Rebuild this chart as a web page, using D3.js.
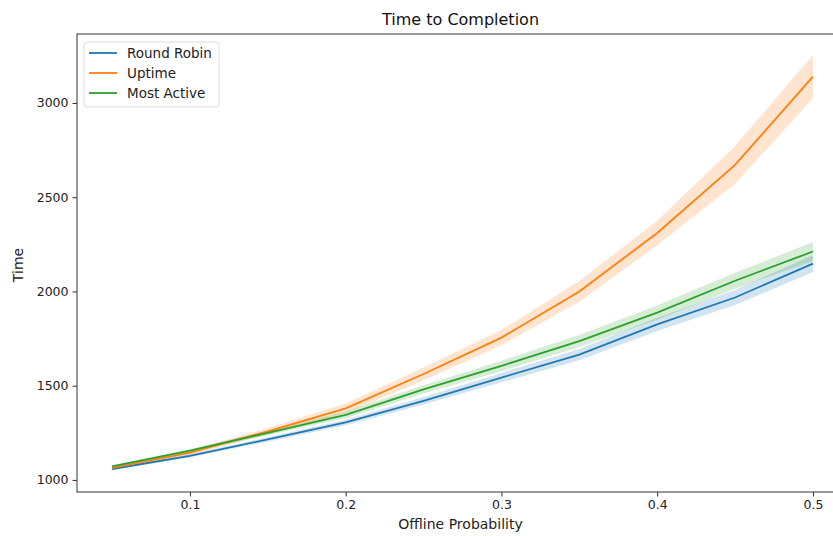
<!DOCTYPE html>
<html>
<head>
<meta charset="utf-8">
<script src="https://cdn.jsdelivr.net/npm/d3@7"></script>
<style>
  body { margin: 0; background: #fff; }
  svg { display: block; font-family: "DejaVu Sans", sans-serif; }
</style>
</head>
<body>
<div id="chart"></div>
<script>
var probs = [0.05, 0.1, 0.15, 0.2, 0.25, 0.3, 0.35, 0.4, 0.45, 0.5];

var roundRobin = [1058, 1128, 1215, 1305, 1420, 1543, 1665, 1825, 1968, 2148],
    roundRobinCi = [6, 8, 12, 15, 20, 25, 30, 35, 40, 45];
var uptime = [1064, 1145, 1258, 1380, 1562, 1755, 2000, 2310, 2672, 3140],
    uptimeCi = [8, 12, 18, 25, 35, 40, 55, 65, 100, 115];
var mostActive = [1072, 1155, 1250, 1345, 1480, 1605, 1737, 1888, 2057, 2212],
    mostActiveCi = [6, 8, 12, 18, 22, 28, 32, 38, 42, 50];

var seriesNames = ["Round Robin", "Uptime", "Most Active"],
    colors = ["#1f77b4", "#ff7f0e", "#2ca02c"];
var yTicks = [1000, 1500, 2000, 2500, 3000],
    xTicks = [0.1, 0.2, 0.3, 0.4, 0.5];

var series = [
  {name: seriesNames[0], values: roundRobin, ci: roundRobinCi, color: colors[0]},
  {name: seriesNames[1], values: uptime, ci: uptimeCi, color: colors[1]},
  {name: seriesNames[2], values: mostActive, ci: mostActiveCi, color: colors[2]}
];

var width = 833, height = 536;
var pLeft = 77, pRight = 848, pTop = 34, pBottom = 492;

var svg = d3.select("#chart").append("svg")
    .attr("width", width)
    .attr("height", height);

var x = d3.scaleLinear().domain([0.0275, 0.5225]).range([pLeft, pRight]),
    y = d3.scaleLinear().domain([936, 3366]).range([pBottom, pTop]);

var g = svg.append("g");

// confidence bands first, lines over them
series.forEach(function(s) {
  var area = d3.area()
      .x(function(d, i) { return x(probs[i]); })
      .y0(function(d, i) { return y(d - s.ci[i]); })
      .y1(function(d, i) { return y(d + s.ci[i]); });
  g.append("path")
      .datum(s.values)
      .attr("d", area)
      .attr("fill", s.color)
      .attr("fill-opacity", 0.2);
});

series.forEach(function(s) {
  var line = d3.line()
      .x(function(d, i) { return x(probs[i]); })
      .y(function(d) { return y(d); });
  g.append("path")
      .datum(s.values)
      .attr("d", line)
      .attr("fill", "none")
      .attr("stroke", s.color)
      .attr("stroke-width", 1.8);
});

// frame
svg.append("rect")
    .attr("x", pLeft).attr("y", pTop)
    .attr("width", pRight - pLeft).attr("height", pBottom - pTop)
    .attr("fill", "none")
    .attr("stroke", "#333")
    .attr("stroke-width", 1);

var xAxis = svg.append("g")
    .attr("transform", "translate(0," + pBottom + ")")
    .call(d3.axisBottom(x).tickValues(xTicks).tickSize(4.5).tickPadding(4).tickFormat(d3.format("")));
var yAxis = svg.append("g")
    .attr("transform", "translate(" + pLeft + ",0)")
    .call(d3.axisLeft(y).tickValues(yTicks).tickSize(4.5).tickPadding(4).tickFormat(d3.format("d")));

[xAxis, yAxis].forEach(function(a) {
  a.select(".domain").remove();
  a.selectAll("line").attr("stroke", "#333");
  a.selectAll("text").attr("fill", "#222").style("font-size", "12.5px").style("font-family", "DejaVu Sans");
});

svg.append("text")
    .attr("x", (pLeft + pRight) / 2 - 2)
    .attr("y", 25)
    .attr("text-anchor", "middle")
    .attr("fill", "#111")
    .style("font-size", "16px")
    .text("Time to Completion");

svg.append("text")
    .attr("x", (pLeft + pRight) / 2 - 2)
    .attr("y", 529)
    .attr("text-anchor", "middle")
    .attr("fill", "#222")
    .style("font-size", "14px")
    .text("Offline Probability");

svg.append("text")
    .attr("transform", "translate(23,265) rotate(-90)")
    .attr("text-anchor", "middle")
    .attr("fill", "#222")
    .style("font-size", "14px")
    .text("Time");

// legend
var legend = svg.append("g").attr("transform", "translate(84,42)");
legend.append("rect")
    .attr("width", 135).attr("height", 65)
    .attr("rx", 3)
    .attr("fill", "#fff").attr("fill-opacity", 0.8)
    .attr("stroke", "#ddd");
series.forEach(function(s, i) {
  var row = legend.append("g").attr("transform", "translate(0," + (11 + i * 20) + ")");
  row.append("line")
      .attr("x1", 5).attr("x2", 33)
      .attr("stroke", s.color).attr("stroke-width", 1.8);
  row.append("text")
      .attr("x", 43).attr("dy", "0.35em")
      .attr("fill", "#222")
      .style("font-size", "13.5px")
      .text(s.name);
});
</script>
</body>
</html>
